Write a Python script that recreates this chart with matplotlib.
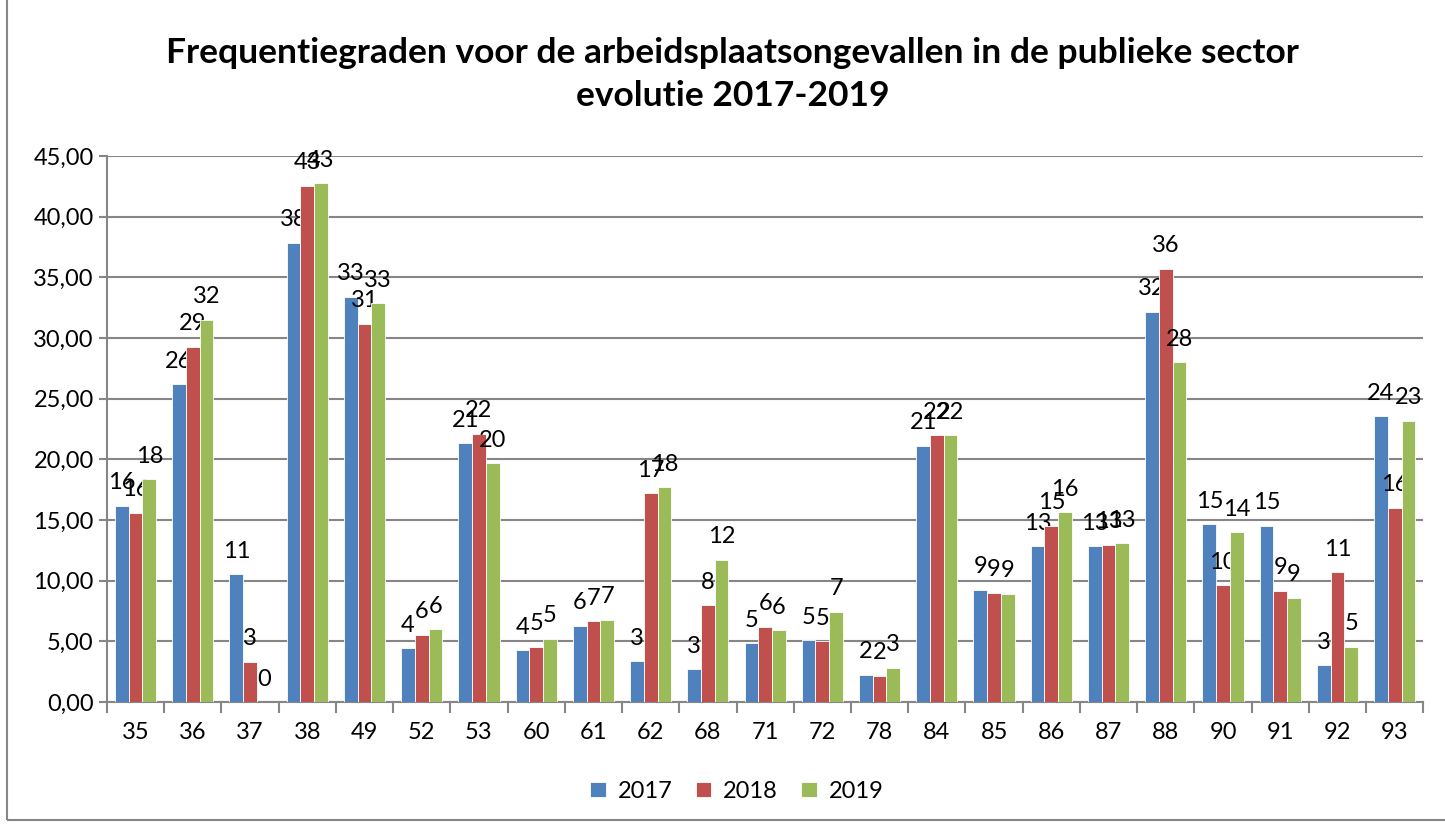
import numpy as np
import matplotlib.pyplot as plt
from matplotlib.patches import Rectangle

plt.rcParams['font.family'] = ['Lato', 'DejaVu Sans']

# Categories (sector codes) and frequency rates per year
categories = ['35', '36', '37', '38', '49', '52', '53', '60', '61', '62', '68', '71',
              '72', '78', '84', '85', '86', '87', '88', '90', '91', '92', '93']
rates_2017 = [16.17, 26.19, 10.55, 37.84, 33.38, 4.42, 21.34, 4.26, 6.30, 3.36, 2.72, 4.84,
              5.09, 2.26, 21.13, 9.27, 12.85, 12.85, 32.18, 14.64, 14.51, 3.03, 23.55]
rates_2018 = [15.62, 29.26, 3.31, 42.53, 31.19, 5.54, 22.10, 4.57, 6.68, 17.19, 7.98, 6.19,
              5.03, 2.17, 22.00, 8.99, 14.52, 12.96, 35.71, 9.63, 9.18, 10.70, 16.02]
rates_2019 = [18.36, 31.52, 0.00, 42.74, 32.87, 6.02, 19.69, 5.20, 6.77, 17.68, 11.72, 5.91,
              7.43, 2.81, 22.00, 8.91, 15.64, 13.07, 28.02, 13.98, 8.60, 4.55, 23.17]
years = ['2017', '2018', '2019']
colors = ['#4F81BD', '#C0504D', '#9BBB59']

fig = plt.figure(figsize=(14.45, 8.25), dpi=100)
ax = fig.add_axes([0.074, 0.149, 0.911, 0.662])

x = np.arange(len(categories))
w = 0.24
for i, (vals, year, col) in enumerate(zip([rates_2017, rates_2018, rates_2019], years, colors)):
    bars = ax.bar(x + (i - 1) * w, vals, w, color=col, edgecolor='white', linewidth=0.6,
                  label=year, zorder=3)
    ax.bar_label(bars, labels=[f'{v:.0f}' for v in vals], padding=9, fontsize=17)

ax.set_xlim(-0.5, len(categories) - 0.5)
ax.set_ylim(0, 45)
ax.set_yticks(np.arange(0, 46, 5))
ax.set_yticklabels([f'{v:.2f}'.replace('.', ',') for v in np.arange(0, 46, 5)])
ax.set_xticks(x)
ax.set_xticklabels(categories)
ax.set_xticks(np.arange(-0.5, len(categories), 1), minor=True)
ax.tick_params(axis='x', which='major', length=0, labelsize=17, pad=14)
ax.tick_params(axis='x', which='minor', length=8, width=1.5, color='#868686')
ax.tick_params(axis='y', length=6, width=1.5, color='#868686', labelsize=17)

ax.grid(axis='y', color='#868686', linewidth=1.5, zorder=0)
for s in ['top', 'right']:
    ax.spines[s].set_visible(False)
for s in ['left', 'bottom']:
    ax.spines[s].set_color('#868686')
    ax.spines[s].set_linewidth(1.5)

fig.suptitle('Frequentiegraden voor de arbeidsplaatsongevallen in de publieke sector\nevolutie 2017-2019',
             fontsize=25.5, fontweight='bold', x=0.507, y=0.955, linespacing=1.4)

fig.legend(loc='center', bbox_to_anchor=(0.51, 0.041), ncol=3, frameon=False, fontsize=17,
           handlelength=0.65, handleheight=0.65, columnspacing=1.0, handletextpad=0.5)

fig.patches.append(Rectangle((0.005, 0.006), 1.2, 1.2, transform=fig.transFigure,
                             fill=False, edgecolor='#868686', linewidth=1.5))

fig.savefig('out.png', dpi=100)
